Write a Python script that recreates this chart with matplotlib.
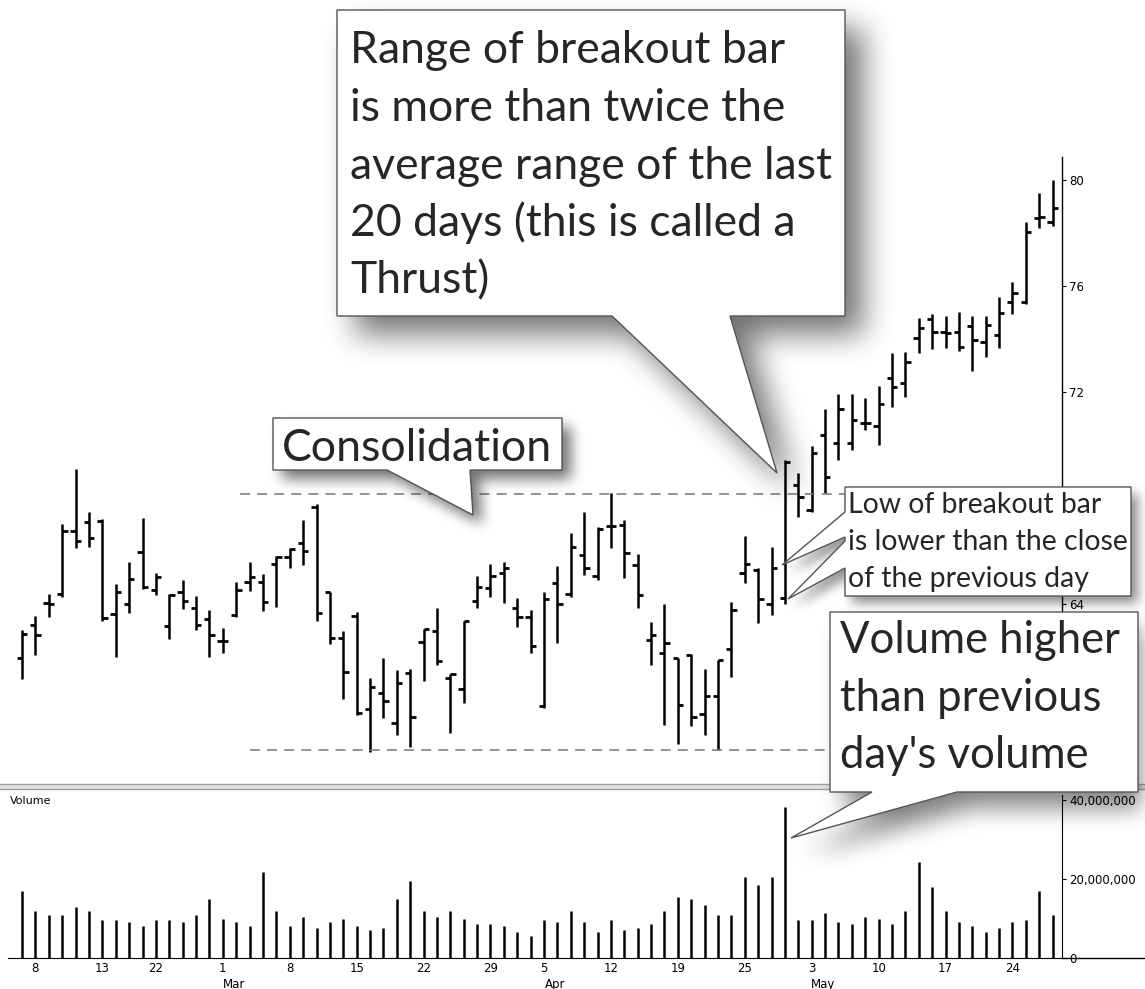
import numpy as np
import matplotlib
matplotlib.use("Agg")
import matplotlib.pyplot as plt
from matplotlib.path import Path
from matplotlib.patches import PathPatch, Rectangle
from matplotlib.lines import Line2D

W, H = 1145, 989

# ---- daily bars (Feb 5 .. May 27) ----
opens = [61.95, 63.23, 64.06, 64.40, 66.75, 67.11, 67.13, 63.61, 64.00, 65.95,
         64.53, 63.17, 64.44, 63.86, 63.43, 62.61, 63.58, 64.84, 64.82, 65.50,
         65.76, 66.31, 67.65, 64.44, 62.71, 63.55, 60.03, 60.65, 59.52, 61.41,
         62.58, 62.98, 61.20, 60.78, 64.11, 64.62, 65.18, 63.86, 63.52, 60.15,
         64.78, 64.40, 65.85, 65.06, 66.94, 66.98, 65.47, 62.64, 62.16, 61.95,
         62.08, 59.85, 60.53, 62.29, 65.16, 65.28, 64.00, 64.22, 68.49, 67.55,
         70.38, 70.06, 70.06, 70.82, 70.72, 72.54, 72.35, 74.03, 74.74, 74.28,
         74.28, 74.50, 73.90, 74.15, 75.41, 75.41, 78.58, 78.40]
highs = [63.02, 63.56, 64.38, 67.02, 69.08, 67.48, 67.23, 64.75, 65.58, 67.26,
         65.19, 64.38, 64.91, 64.31, 63.77, 63.11, 64.84, 65.60, 65.13, 65.81,
         66.10, 67.17, 67.77, 64.44, 62.99, 63.69, 61.20, 61.95, 61.51, 61.57,
         63.06, 63.86, 61.36, 63.37, 65.06, 65.50, 65.60, 64.24, 63.77, 64.44,
         65.43, 66.67, 67.48, 66.92, 68.18, 67.17, 65.89, 63.33, 64.00, 61.95,
         62.11, 61.57, 61.89, 64.09, 66.57, 65.35, 66.14, 69.43, 68.93, 69.96,
         71.35, 71.92, 71.92, 71.76, 72.23, 73.46, 73.52, 74.78, 74.94, 74.87,
         75.03, 74.88, 74.88, 75.57, 76.14, 78.43, 79.50, 80.00]
lows = [61.16, 62.08, 63.52, 64.28, 66.10, 66.16, 63.37, 62.01, 63.65, 64.57,
        64.34, 62.68, 63.81, 63.02, 62.01, 62.16, 63.52, 64.50, 63.75, 63.90,
        65.35, 65.47, 63.37, 62.48, 60.42, 59.81, 58.43, 59.72, 59.06, 58.61,
        61.09, 61.70, 59.14, 60.28, 63.84, 64.28, 64.05, 63.14, 62.16, 60.09,
        62.52, 64.28, 65.09, 64.91, 66.10, 64.97, 63.84, 61.72, 59.43, 58.72,
        59.40, 59.06, 58.49, 61.26, 64.80, 63.29, 63.58, 64.00, 67.29, 67.48,
        68.18, 69.43, 69.81, 70.57, 70.00, 71.45, 71.82, 73.46, 73.61, 73.65,
        73.56, 72.80, 73.33, 73.65, 74.94, 75.32, 78.18, 78.28]
closes = [62.87, 62.82, 63.99, 66.75, 66.39, 66.48, 63.48, 64.44, 64.95, 64.65,
          65.03, 64.34, 64.11, 63.23, 62.83, 62.61, 64.53, 65.03, 64.09, 65.76,
          66.08, 66.00, 63.65, 62.71, 61.42, 59.90, 60.88, 60.35, 61.01, 59.75,
          63.06, 61.86, 61.36, 63.37, 64.65, 65.06, 65.35, 63.52, 62.43, 64.19,
          64.00, 66.16, 65.35, 66.82, 66.94, 65.91, 64.34, 62.83, 62.54, 60.21,
          59.75, 60.53, 61.89, 63.77, 65.51, 64.18, 65.37, 69.37, 68.03, 69.69,
          68.80, 71.38, 70.94, 70.82, 71.54, 72.20, 73.14, 74.40, 74.28, 74.22,
          73.69, 73.96, 74.53, 74.97, 75.75, 78.05, 78.62, 78.95]
# volume in millions of shares
volume_m = [16.9, 12.0, 11.0, 11.0, 13.0, 12.0, 9.5, 9.5, 9.0, 8.0,
            9.5, 9.5, 9.0, 11.0, 15.0, 10.0, 9.0, 8.0, 21.9, 12.0,
            8.0, 10.5, 7.5, 9.0, 10.0, 8.0, 7.0, 7.5, 15.0, 19.4,
            12.0, 10.5, 12.0, 10.0, 8.5, 8.5, 8.0, 6.5, 5.5, 9.5,
            9.0, 12.0, 9.0, 6.5, 9.5, 7.0, 7.5, 8.5, 12.0, 15.5,
            15.0, 13.5, 11.0, 11.0, 20.4, 18.4, 20.4, 38.3, 9.5, 9.5,
            11.5, 9.0, 8.5, 10.5, 10.0, 8.5, 12.0, 24.4, 17.9, 12.0,
            9.0, 8.0, 6.5, 7.5, 9.0, 9.5, 16.9, 11.0]

day_tick_idx = [1, 6, 10, 15, 20, 25, 30, 35, 39, 44, 49, 54, 59, 64, 69, 74]
day_tick_labels = ["8", "13", "22", "1", "8", "15", "22", "29", "5", "12",
                   "19", "25", "3", "10", "17", "24"]
month_idx = [15, 39, 59]
month_labels = ["Mar", "Apr", "May"]
price_ticks = [64, 72, 76, 80]   # 68 sits under the callout box
volume_ticks = [0, 20e6, 40e6]
volume_tick_labels = ["0", "20,000,000", "40,000,000"]
resistance = 68.14
support = 58.49

fig = plt.figure(figsize=(W / 100, H / 100), dpi=100)


def fx(x):
    return x / W


def fy(y):
    return 1 - y / H


# ---- price panel ----
ax = fig.add_axes([fx(8), fy(783), fx(1062) - fx(8), fy(157) - fy(783)])
ax.set_facecolor("none")
x = np.arange(len(closes))
ax.vlines(x, lows, highs, color="black", lw=1.8)
ax.hlines(opens, x - 0.4, x, color="black", lw=2.0)
ax.hlines(closes, x, x + 0.4, color="black", lw=2.0)
ax.hlines(resistance, 16.3, 62, color="#777777", lw=1.1, linestyles=(0, (6.5, 4.7)))
ax.hlines(support, 17.0, 62, color="#777777", lw=1.1, linestyles=(0, (6.5, 4.7)))
ax.set_xlim(-1.05, 77.7)
ax.set_ylim(57.25, 80.87)
for s in ["left", "top", "bottom"]:
    ax.spines[s].set_visible(False)
ax.spines["right"].set_linewidth(1.0)
ax.yaxis.tick_right()
ax.set_yticks(price_ticks)
ax.set_yticklabels([str(t) for t in price_ticks])
ax.tick_params(axis="y", direction="out", length=3, labelsize=8.5, pad=2)
ax.set_xticks([])

# ---- volume panel ----
axv = fig.add_axes([fx(8), fy(958), fx(1062) - fx(8), fy(795) - fy(958)])
axv.set_facecolor("none")
axv.vlines(x, 0, np.array(volume_m) * 1e6, color="black", lw=1.8)
axv.set_xlim(-1.05, 77.7)
axv.set_ylim(0, 41.27e6)
for s in ["left", "top"]:
    axv.spines[s].set_visible(False)
axv.yaxis.tick_right()
axv.set_yticks(volume_ticks)
axv.set_yticklabels(volume_tick_labels)
axv.tick_params(axis="y", direction="out", length=3, labelsize=8.5, pad=2)
axv.set_xticks(day_tick_idx)
axv.set_xticklabels(day_tick_labels)
axv.tick_params(axis="x", length=0, labelsize=8.5, pad=3)
for i, m in zip(month_idx, month_labels):
    axv.annotate(m, xy=(i, 0), xycoords=("data", "axes fraction"),
                 xytext=(8, -19), textcoords="offset points",
                 ha="center", va="center", fontsize=8.5)
fig.text(fx(10), fy(801), "Volume", fontsize=8, va="center", ha="left")
fig.add_artist(Line2D([fx(1062), 1], [fy(958), fy(958)], color="black", lw=1.0))

# panel separator
fig.add_artist(Rectangle((0, fy(789.5)), 1, fy(783.5) - fy(789.5),
                         facecolor="#e2e2e2", edgecolor="none", zorder=0.5))
for yy in (784, 789):
    fig.add_artist(Line2D([0, 1], [fy(yy), fy(yy)], color="#a0a0a0", lw=1.0, zorder=0.6))

# ---- callouts (pixel outlines, y measured from top) ----
callouts = [
    # outline, shadow dx, dy, blur radius, strength
    ([(337, 10), (845, 10), (845, 316), (730, 316), (777, 473), (612, 316), (337, 316)],
     18, 18, 14, 0.55),
    ([(273, 418), (562, 418), (562, 470), (470, 470), (473, 515), (387, 470), (273, 470)],
     9, 9, 6, 0.55),
    ([(845, 487), (1131, 487), (1131, 596), (845, 596), (845, 568), (788, 599),
      (845, 541), (845, 537), (782, 565), (845, 512)],
     7, 7, 5, 0.45),
    ([(830, 612), (1138, 612), (1138, 792), (957, 792), (791, 838), (872, 792), (830, 792)],
     15, 15, 11, 0.5),
]


def box1d(a, r, axis):
    a = np.moveaxis(a, axis, 0)
    p = np.pad(a, ((r + 1, r), (0, 0)))
    c = np.cumsum(p, axis=0)
    out = (c[2 * r + 1:] - c[:-2 * r - 1]) / (2 * r + 1)
    return np.moveaxis(out, 0, axis)


gx, gy = np.meshgrid(np.arange(W) + 0.5, np.arange(H) + 0.5)
grid = np.column_stack([gx.ravel(), gy.ravel()])
shadow = np.zeros((H, W))
for pts, dx, dy, r, k in callouts:
    m = Path(pts).contains_points(grid).reshape(H, W).astype(float)
    s = np.zeros_like(m)
    s[dy:, dx:] = m[:-dy, :-dx]
    for _ in range(3):
        s = box1d(box1d(s, r, 0), r, 1)
    shadow = np.maximum(shadow, s * k)

rgba = np.zeros((H, W, 4))
rgba[..., 3] = shadow
fig.figimage(rgba, xo=0, yo=0, origin="upper", zorder=1)

for pts, *_ in callouts:
    verts = [(fx(px), fy(py)) for px, py in pts] + [(fx(pts[0][0]), fy(pts[0][1]))]
    codes = [Path.MOVETO] + [Path.LINETO] * (len(pts) - 1) + [Path.CLOSEPOLY]
    fig.add_artist(PathPatch(Path(verts, codes), facecolor="white", edgecolor="#555555",
                             lw=1.0, transform=fig.transFigure, zorder=2))

# ---- callout text, sized to the measured line widths ----
font = ["Lato", "DejaVu Sans"]
renderer = fig.canvas.get_renderer()


def text_block(lines, left, baselines, target_width):
    texts = [fig.text(fx(left), fy(b), s, ha="left", va="baseline", fontsize=20,
                      family=font, weight="normal", color="#262626", zorder=3)
             for s, b in zip(lines, baselines)]
    widest = max(t.get_window_extent(renderer).width for t in texts)
    for t in texts:
        t.set_fontsize(20 * target_width / widest)


text_block(["Range of breakout bar", "is more than twice the", "average range of the last",
            "20 days (this is called a", "Thrust)"],
           350, [63, 121, 179, 236, 293], 483)
text_block(["Consolidation"], 282, [461], 270)
text_block(["Low of breakout bar", "is lower than the close", "of the previous day"],
           848, [513, 550, 587], 280)
text_block(["Volume higher", "than previous", "day's volume"],
           840, [653, 711, 768], 281)

fig.savefig("out.png", dpi=100)
